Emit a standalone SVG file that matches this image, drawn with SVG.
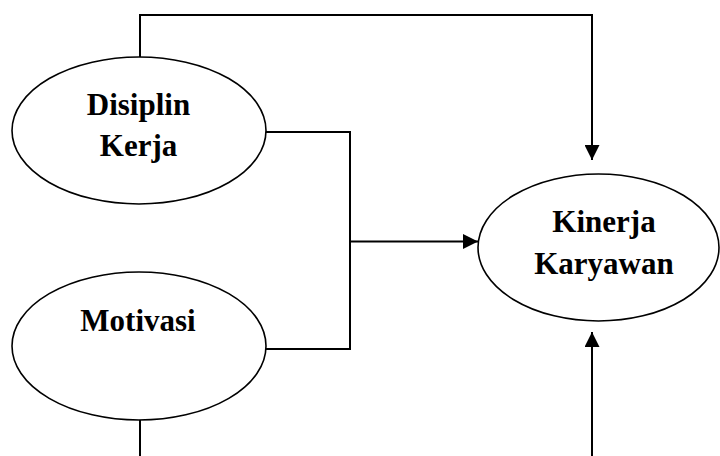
<svg xmlns="http://www.w3.org/2000/svg" width="720" height="456" viewBox="0 0 720 456">
<style>
.node ellipse{fill:#fff;stroke:#000;stroke-width:1.6}
.node text{font-family:"Liberation Serif","Times New Roman",serif;font-weight:bold;font-size:31px;fill:#000;text-anchor:middle}
.conn path{fill:none;stroke:#000;stroke-width:2}
</style>
<defs>
<marker id="arr" viewBox="0 0 15 15" refX="15" refY="7.5" markerWidth="15" markerHeight="15" markerUnits="userSpaceOnUse" orient="auto">
<path d="M0,0 L15,7.5 L0,15 Z" fill="#000"/>
</marker>
</defs>
<rect width="720" height="456" fill="#fff"/>
<g class="conn">
<path d="M140,58 V15 H592 V160" marker-end="url(#arr)"/>
<path d="M266,132 H350 V349 H266"/>
<path d="M350,241.5 H478" marker-end="url(#arr)"/>
<path d="M140,420 V456"/>
<path d="M592,456 V332" marker-end="url(#arr)"/>
</g>
<g id="disiplin" class="node">
<ellipse cx="139" cy="130.5" rx="127" ry="73.5"/>
<text x="138.5" y="115">Disiplin</text>
<text x="138.5" y="156">Kerja</text>
</g>
<g id="motivasi" class="node">
<ellipse cx="139" cy="346" rx="127" ry="74"/>
<text x="138" y="331">Motivasi</text>
</g>
<g id="kinerja" class="node">
<ellipse cx="598.5" cy="247.5" rx="120.5" ry="73.5"/>
<text x="604" y="232">Kinerja</text>
<text x="604" y="274">Karyawan</text>
</g>
</svg>
